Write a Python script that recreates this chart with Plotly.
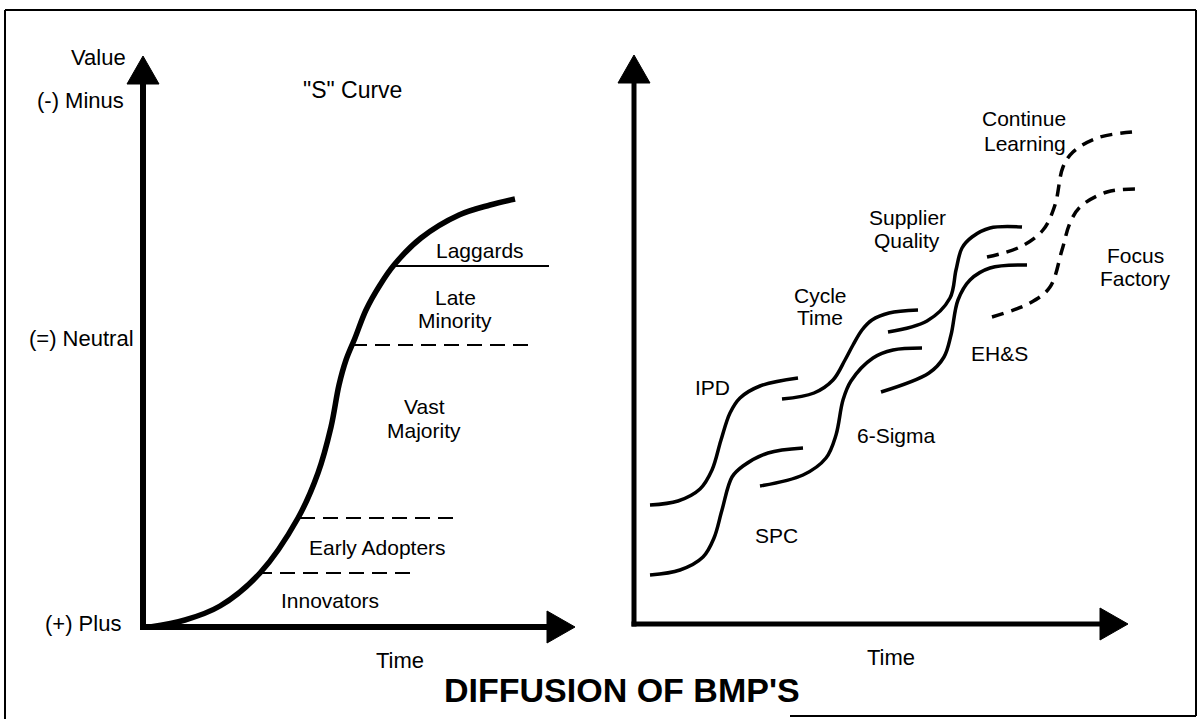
import plotly.graph_objects as go

W, H = 1199, 719
FONT = "Liberation Sans Narrow, Arial Narrow, Liberation Sans, Arial, sans-serif"
BOLD = "Liberation Sans, Arial, sans-serif"

# ---------------- Left panel: "S" curve (diagram units) ----------------
s_curve_x = [150, 185, 220, 260, 298, 318, 331, 339, 346, 355, 366, 380, 394, 421, 459, 490, 515]
s_curve_y = [627, 620, 606, 573, 518, 473, 427, 385, 360, 338, 310, 285, 265, 238, 215, 205, 199]

# adopter boundaries: level, start (on curve), end, style
band_level = [266, 345, 518, 573]
band_x0 = [394, 352, 300, 257]
band_x1 = [549, 528, 460, 417]
band_dash = ["solid", "dash", "dash", "dash"]

band_labels = ["Laggards", "Late", "Minority", "Vast", "Majority", "Early Adopters", "Innovators"]
band_label_x = [480, 455, 455, 424, 424, 377, 330]
band_label_y = [250, 297, 320, 406, 430, 547, 600]

axis_labels_left = ["Value", "(-) Minus", "(=) Neutral", "(+) Plus"]
axis_label_left_x = [98, 80, 81, 83]
axis_label_left_y = [57, 100, 338, 623]

# ---------------- Right panel: successive practice curves ----------------
ipd_x = [650, 678, 700, 712, 721, 730, 740, 760, 798]
ipd_y = [505, 501, 489, 470, 440, 413, 398, 386, 378]
spc_x = [650, 680, 703, 714, 722, 732, 743, 768, 803]
spc_y = [575, 570, 557, 538, 510, 477, 466, 453, 448]
cycle_x = [782, 814, 833, 845, 853, 862, 872, 889, 918]
cycle_y = [399, 393, 380, 360, 345, 330, 320, 313, 310]
sigma_x = [760, 803, 826, 836, 843, 851, 873, 893, 922]
sigma_y = [486, 475, 458, 435, 400, 381, 358, 350, 348]
supplier_x = [888, 927, 950, 956, 962, 972, 990, 1022]
supplier_y = [332, 321, 298, 270, 248, 237, 228, 227]
ehs_x = [881, 929, 944, 951, 958, 970, 990, 1027]
ehs_y = [392, 373, 357, 335, 300, 280, 268, 265]
learning_x = [987, 1020, 1043, 1055, 1063, 1073, 1097, 1132]
learning_y = [257, 247, 230, 205, 167, 152, 138, 132]
focus_x = [992, 1030, 1050, 1062, 1070, 1080, 1107, 1137]
focus_y = [317, 303, 287, 250, 223, 207, 192, 189]

right_labels = ["IPD", "SPC", "Cycle", "Time", "6-Sigma", "Supplier", "Quality", "EH&S",
                "Continue", "Learning", "Focus", "Factory"]
right_label_x = [712, 776, 820, 820, 896, 907, 907, 999, 1024, 1025, 1135, 1135]
right_label_y = [387, 535, 295, 317, 435, 217, 240, 353, 118, 143, 255, 278]

# axes of the two panels: origin and arrow tips
left_origin = (143, 627)
left_tips = (575, 56)
right_origin = (634, 624)
right_tips = (1128, 55)
time_label_pos = [(400, 660), (891, 657)]
title_text = "DIFFUSION OF BMP'S"
title_pos = (622, 690)
curve_title = ('"S" Curve', 352, 90)

fig = go.Figure()

def line(x, y, width, dash="solid", shape="linear"):
    fig.add_trace(go.Scatter(x=x, y=y, mode="lines", hoverinfo="skip",
                             line=dict(color="black", width=width, dash=dash, shape=shape,
                                       smoothing=1.0 if shape == "spline" else None)))

def arrow_axes(origin, tips, width, head_len=28, head_half=16):
    ox, oy = origin
    tx, ty = tips
    # vertical shaft and head
    line([ox, ox], [oy + width / 2, ty + head_len], width)
    fig.add_trace(go.Scatter(x=[ox - head_half, ox + head_half, ox, ox - head_half],
                             y=[ty + head_len, ty + head_len, ty, ty + head_len],
                             mode="lines", fill="toself", fillcolor="black",
                             line=dict(color="black", width=1), hoverinfo="skip"))
    # horizontal shaft and head
    line([ox - width / 2, tx - head_len], [oy, oy], width)
    fig.add_trace(go.Scatter(x=[tx - head_len, tx - head_len, tx, tx - head_len],
                             y=[oy - head_half, oy + head_half, oy, oy - head_half],
                             mode="lines", fill="toself", fillcolor="black",
                             line=dict(color="black", width=1), hoverinfo="skip"))

arrow_axes(left_origin, left_tips, 6)
arrow_axes(right_origin, right_tips, 5)

# S-curve
line(s_curve_x, s_curve_y, 5.5, shape="spline")
for lvl, x0, x1, d in zip(band_level, band_x0, band_x1, band_dash):
    line([x0, x1], [lvl, lvl], 2.2, dash=("solid" if d == "solid" else "15px,8px"))

# right-hand curves
for xs, ys in [(ipd_x, ipd_y), (spc_x, spc_y), (cycle_x, cycle_y), (sigma_x, sigma_y),
               (supplier_x, supplier_y), (ehs_x, ehs_y)]:
    line(xs, ys, 3.5, shape="spline")
for xs, ys in [(learning_x, learning_y), (focus_x, focus_y)]:
    line(xs, ys, 3.5, dash="12px,8px", shape="spline")

annotations = []
def label(text, x, y, size=21, family=FONT, bold=False):
    annotations.append(dict(x=x, y=y, xref="x", yref="y", text=(f"<b>{text}</b>" if bold else text),
                            showarrow=False, xanchor="center", yanchor="middle",
                            font=dict(family=family, size=size, color="black")))

for t, x, y in zip(axis_labels_left, axis_label_left_x, axis_label_left_y):
    label(t, x, y, size=22)
for t, x, y in zip(band_labels, band_label_x, band_label_y):
    label(t, x, y)
for t, x, y in zip(right_labels, right_label_x, right_label_y):
    label(t, x, y)
for (x, y) in time_label_pos:
    label("Time", x, y, size=22)
label(curve_title[0], curve_title[1], curve_title[2], size=23)
label(title_text, title_pos[0], title_pos[1], size=34, family=BOLD, bold=True)

shapes = [
    dict(type="line", xref="x", yref="y", x0=5, y0=10, x1=1196, y1=10, line=dict(color="black", width=2)),
    dict(type="line", xref="x", yref="y", x0=5, y0=10, x1=5, y1=719, line=dict(color="black", width=2)),
    dict(type="line", xref="x", yref="y", x0=1196, y0=10, x1=1196, y1=716, line=dict(color="black", width=2)),
    dict(type="line", xref="x", yref="y", x0=790, y0=716, x1=1196, y1=716, line=dict(color="black", width=2)),
]

fig.update_layout(
    width=W, height=H, margin=dict(l=0, r=0, t=0, b=0),
    paper_bgcolor="white", plot_bgcolor="white", showlegend=False,
    xaxis=dict(range=[0, W], visible=False, fixedrange=True),
    yaxis=dict(range=[H, 0], visible=False, fixedrange=True),
    annotations=annotations, shapes=shapes,
)

fig.write_html("out.html", config={"displayModeBar": False},
               post_script="document.body.style.margin='0px';")
